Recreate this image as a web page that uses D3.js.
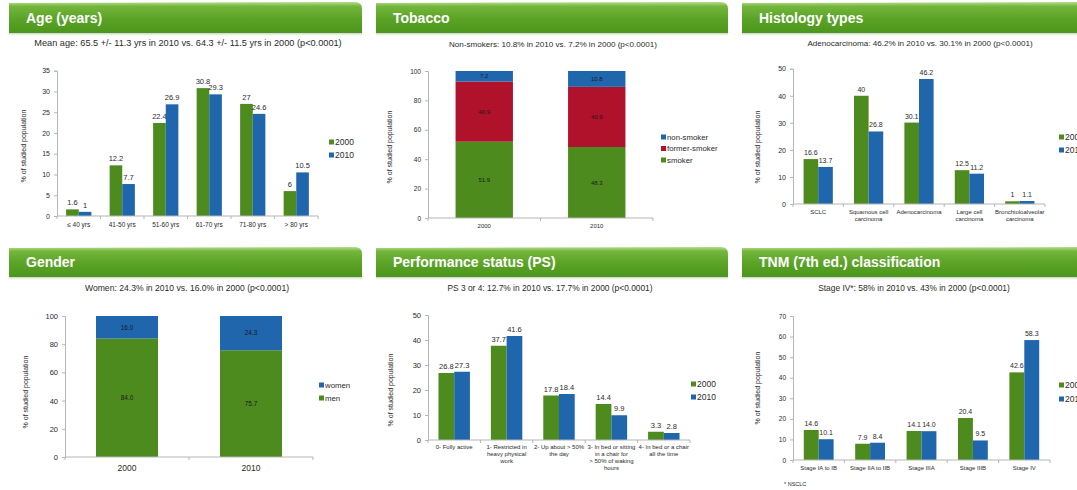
<!DOCTYPE html>
<html>
<head>
<meta charset="utf-8">
<script src="https://cdn.jsdelivr.net/npm/d3@7"></script>
<style>
  body { margin: 0; background: #fff; }
  svg { display: block; font-family: "Liberation Sans", Arial, sans-serif; }
</style>
</head>
<body>
<svg id="chart" width="1077" height="490"></svg>
<script>
// ---------- data ----------
const years = ["2000", "2010"];

const ageCategories = [["≤ 40 yrs"], ["41-50 yrs"], ["51-60 yrs"], ["61-70 yrs"], ["71-80 yrs"], ["> 80 yrs"]];
const age2000 = [1.6, 12.2, 22.4, 30.8, 27, 6];
const age2010 = [1, 7.7, 26.9, 29.3, 24.6, 10.5];
const ageTicks = [0, 5, 10, 15, 20, 25, 30, 35];

const tobaccoSeries = ["smoker", "former-smoker", "non-smoker"];
const smoker = [51.9, 48.3];
const formerSmoker = [40.9, 40.9];
const nonSmoker = [7.2, 10.8];
const percentTicks = [0, 20, 40, 60, 80, 100];

const histologyCategories = [["SCLC"], ["Squamous cell", "carcinoma"], ["Adenocarcinoma"], ["Large cell", "carcinoma"], ["Bronchioloalveolar", "carcinoma"]];
const histology2000 = [16.6, 40, 30.1, 12.5, 1];
const histology2010 = [13.7, 26.8, 46.2, 11.2, 1.1];
const histologyTicks = [0, 10, 20, 30, 40, 50];

const genderSeries = ["men", "women"];
const men = [84.0, 75.7];
const women = [16.0, 24.3];

const psCategories = [
  ["0- Fully active"],
  ["1- Restricted in", "heavy physical", "work"],
  ["2- Up about > 50%", "the day"],
  ["3- In bed or  sitting", "in a chair for", "> 50% of waking", "hours"],
  ["4- In bed or a chair", "all the time"]
];
const ps2000 = [26.8, 37.7, 17.8, 14.4, 3.3];
const ps2010 = [27.3, 41.6, 18.4, 9.9, 2.8];
const psTicks = [0, 10, 20, 30, 40, 50];

const tnmCategories = [["Stage IA to IB"], ["Stage IIA to IIB"], ["Stage IIIA"], ["Stage IIIB"], ["Stage IV"]];
const tnm2000 = [14.6, 7.9, 14.1, 20.4, 42.6];
const tnm2010 = [10.1, 8.4, 14.0, 9.5, 58.3];
const tnmTicks = [0, 10, 20, 30, 40, 50, 60, 70];

// ---------- styling ----------
const GREEN = "#4d8b1f";
const BLUE = "#1f66ad";
const RED = "#b0112b";
const AXIS = "#b5b5b5";
const TEXT = "#2a2a2a";
const yTitle = "% of studied population";

const svg = d3.select("#chart");
const defs = svg.append("defs");

const hdrGrad = defs.append("linearGradient").attr("id", "hdr").attr("x1", 0).attr("y1", 0).attr("x2", 0).attr("y2", 1);
hdrGrad.append("stop").attr("offset", "0%").attr("stop-color", "#b7dc8f");
hdrGrad.append("stop").attr("offset", "14%").attr("stop-color", "#74b63c");
hdrGrad.append("stop").attr("offset", "55%").attr("stop-color", "#5aa326");
hdrGrad.append("stop").attr("offset", "100%").attr("stop-color", "#4b961c");

const shadowGrad = defs.append("linearGradient").attr("id", "hdrShadow").attr("x1", 0).attr("y1", 0).attr("x2", 0).attr("y2", 1);
shadowGrad.append("stop").attr("offset", "0%").attr("stop-color", "#c9d3c2");
shadowGrad.append("stop").attr("offset", "100%").attr("stop-color", "#ffffff").attr("stop-opacity", 0);

// green section header with rounded upper-right corner
function header(x, y, w, h, title, baseline) {
  const r = 7;
  svg.append("rect").attr("x", x).attr("y", y + h).attr("width", w).attr("height", 4).attr("fill", "url(#hdrShadow)");
  const p = d3.path();
  p.moveTo(x, y + h);
  p.lineTo(x, y + 1);
  p.lineTo(x + w - r, y);
  p.quadraticCurveTo(x + w, y, x + w, y + r);
  p.lineTo(x + w, y + h);
  p.closePath();
  svg.append("path").attr("d", p.toString()).attr("fill", "url(#hdr)");
  svg.append("text").attr("x", x + 17).attr("y", y + baseline)
    .attr("fill", "#fff").attr("font-size", 14).attr("font-weight", "bold")
    .text(title);
}

function subtitle(cx, y, size, str) {
  svg.append("text").attr("x", cx).attr("y", y).attr("text-anchor", "middle")
    .attr("font-size", size).attr("fill", TEXT).text(str);
}

function yAxis(g, y, left, ticks, size) {
  const ax = g.append("g").attr("transform", `translate(${left},0)`)
    .call(d3.axisLeft(y).tickValues(ticks).tickSize(3).tickPadding(4).tickFormat(d3.format("d")));
  ax.select(".domain").attr("stroke", AXIS);
  ax.selectAll(".tick line").attr("stroke", AXIS);
  ax.selectAll(".tick text").attr("fill", TEXT).attr("font-size", size).attr("font-family", null);
}

function yAxisTitle(g, x, cy, size) {
  g.append("text").attr("transform", `translate(${x},${cy}) rotate(-90)`)
    .attr("text-anchor", "middle").attr("font-size", size).attr("fill", TEXT).text(yTitle);
}

function xBaseline(g, x, y0, n) {
  g.append("line").attr("x1", x.range()[0]).attr("x2", x.range()[1])
    .attr("y1", y0).attr("y2", y0).attr("stroke", AXIS);
  g.selectAll(".xt").data(d3.range(n + 1)).join("line")
    .attr("x1", i => x.range()[0] + i * x.step()).attr("x2", i => x.range()[0] + i * x.step())
    .attr("y1", y0).attr("y2", y0 + 3).attr("stroke", AXIS);
}

function legend(g, x, y, rowH, items, size) {
  items.forEach((it, i) => {
    const yy = y + i * rowH;
    g.append("rect").attr("x", x).attr("y", yy - 2.5).attr("width", 5).attr("height", 5).attr("fill", it.color);
    g.append("text").attr("x", x + 6).attr("y", yy).attr("dy", "0.35em")
      .attr("font-size", size).attr("fill", TEXT).text(it.label);
  });
}

// clustered columns, one pair per category
function groupedPanel(o) {
  const g = svg.append("g");
  const n = o.categories.length;
  const x = d3.scaleBand().domain(d3.range(n)).range([o.left, o.right])
    .paddingInner(o.gap).paddingOuter(o.gap / 2);
  const xs = d3.scaleBand().domain(years).range([0, x.bandwidth()]);
  const y = d3.scaleLinear().domain([0, o.max]).range([o.bottom, o.top]);
  const series = [{ key: years[0], values: o.a, color: GREEN }, { key: years[1], values: o.b, color: BLUE }];
  const fmt = o.fmt || (v => String(v));

  series.forEach(s => {
    g.selectAll(null).data(s.values).join("rect")
      .attr("x", (v, i) => x(i) + xs(s.key)).attr("width", xs.bandwidth())
      .attr("y", v => y(v)).attr("height", v => y(0) - y(v)).attr("fill", s.color);
    g.selectAll(null).data(s.values).join("text")
      .attr("x", (v, i) => x(i) + xs(s.key) + xs.bandwidth() / 2)
      .attr("y", v => y(v) - 4).attr("text-anchor", "middle")
      .attr("font-size", o.valueSize).attr("fill", TEXT).text(fmt);
  });

  xBaseline(g, x, o.bottom, n);
  yAxis(g, y, o.left, o.ticks, o.tickSize);
  yAxisTitle(g, o.titleX, o.titleY, 7);

  o.categories.forEach((lines, i) => {
    const t = g.append("text").attr("x", x(i) + x.bandwidth() / 2).attr("y", o.bottom + o.catOffset)
      .attr("text-anchor", "middle").attr("font-size", o.catSize).attr("fill", TEXT);
    lines.forEach((ln, j) => t.append("tspan").attr("x", x(i) + x.bandwidth() / 2)
      .attr("dy", j === 0 ? 0 : o.catLine).text(ln));
  });

  legend(g, o.legendX, o.legendY, o.legendRow,
    series.map(s => ({ label: s.key, color: s.color })), o.legendSize);
}

// 100% stacked columns, one column per year
function stackedPanel(o) {
  const g = svg.append("g");
  const x = d3.scaleBand().domain(years).range([o.left, o.right])
    .paddingInner(o.gap).paddingOuter(o.gap / 2);
  const y = d3.scaleLinear().domain([0, 100]).range([o.bottom, o.top]);
  const rows = years.map((yr, i) => {
    const r = { year: yr };
    o.series.forEach(s => { r[s.key] = s.values[i]; });
    return r;
  });
  const stack = d3.stack().keys(o.series.map(s => s.key))(rows);
  stack.forEach((layer, li) => {
    const s = o.series[li];
    g.selectAll(null).data(layer).join("rect")
      .attr("x", d => x(d.data.year)).attr("width", x.bandwidth())
      .attr("y", d => y(d[1])).attr("height", d => y(d[0]) - y(d[1])).attr("fill", s.color);
    g.selectAll(null).data(layer).join("text")
      .attr("x", d => x(d.data.year) + x.bandwidth() / 2)
      .attr("y", d => (y(d[0]) + y(d[1])) / 2).attr("dy", "0.35em")
      .attr("text-anchor", "middle").attr("font-size", o.valueSize).attr("fill", "#1a1a1a")
      .text(d => d3.format(".1f")(d[1] - d[0]));
  });

  xBaseline(g, x, o.bottom, years.length);
  yAxis(g, y, o.left, percentTicks, o.tickSize);
  yAxisTitle(g, o.titleX, o.titleY, 7);

  g.selectAll(null).data(years).join("text")
    .attr("x", d => x(d) + x.bandwidth() / 2).attr("y", o.bottom + o.catOffset)
    .attr("text-anchor", "middle").attr("font-size", o.catSize).attr("fill", TEXT).text(d => d);

  const legendItems = o.series.slice().reverse().map(s => ({ label: s.key, color: s.color }));
  legend(g, o.legendX, o.legendY, o.legendRow, legendItems, o.legendSize);
}

// ---------- headers ----------
header(9, 2, 353, 31, "Age (years)", 21);
header(376, 2, 352, 31, "Tobacco", 21);
header(742, 2, 345, 31, "Histology types", 21);
header(9, 247, 353, 30, "Gender", 20);
header(376, 247, 352, 30, "Performance status (PS)", 20);
header(742, 247, 345, 30, "TNM (7th ed.) classification", 20);

// ---------- subtitles ----------
subtitle(188, 46, 9.2, "Mean age: 65.5 +/- 11.3 yrs in 2010 vs. 64.3 +/- 11.5 yrs in 2000 (p<0.0001)");
subtitle(553, 47, 8.1, "Non-smokers:  10.8% in 2010 vs. 7.2% in 2000 (p<0.0001)");
subtitle(920, 46, 8.1, "Adenocarcinoma:  46.2% in 2010 vs. 30.1% in 2000 (p<0.0001)");
subtitle(187, 291, 8.6, "Women: 24.3% in 2010 vs. 16.0% in 2000 (p<0.0001)");
subtitle(550, 291, 8.4, "PS 3 or 4: 12.7% in 2010 vs. 17.7% in 2000 (p<0.0001)");
subtitle(914, 291, 8.4, "Stage IV*: 58% in 2010 vs. 43% in 2000 (p<0.0001)");

// ---------- panels ----------
groupedPanel({
  categories: ageCategories, a: age2000, b: age2010, max: 35, ticks: ageTicks,
  left: 57, right: 318, top: 70.7, bottom: 216, gap: 0.42,
  valueSize: 7.5, tickSize: 7, catSize: 6.5, catOffset: 11, catLine: 7,
  titleX: 26, titleY: 146, legendX: 329, legendY: 142, legendRow: 13, legendSize: 8.5
});

stackedPanel({
  series: [
    { key: tobaccoSeries[0], values: smoker, color: GREEN },
    { key: tobaccoSeries[1], values: formerSmoker, color: RED },
    { key: tobaccoSeries[2], values: nonSmoker, color: BLUE }
  ],
  left: 428, right: 653, top: 71, bottom: 218, gap: 0.49,
  valueSize: 6, tickSize: 6.5, catSize: 6, catOffset: 10,
  titleX: 392, titleY: 147, legendX: 661, legendY: 137, legendRow: 11.5, legendSize: 7.8
});

groupedPanel({
  categories: histologyCategories, a: histology2000, b: histology2010, max: 50, ticks: histologyTicks,
  left: 793, right: 1045, top: 68.7, bottom: 204, gap: 0.42,
  valueSize: 7, tickSize: 7, catSize: 6, catOffset: 10, catLine: 6.5,
  titleX: 760, titleY: 147, legendX: 1059, legendY: 137, legendRow: 13, legendSize: 8.5
});

stackedPanel({
  series: [
    { key: genderSeries[0], values: men, color: GREEN },
    { key: genderSeries[1], values: women, color: BLUE }
  ],
  left: 65, right: 313, top: 316, bottom: 457, gap: 0.5,
  valueSize: 6.5, tickSize: 7.5, catSize: 8.5, catOffset: 14,
  titleX: 28, titleY: 392, legendX: 319, legendY: 385, legendRow: 13, legendSize: 7.8
});

groupedPanel({
  categories: psCategories, a: ps2000, b: ps2010, max: 50, ticks: psTicks,
  left: 428, right: 690, top: 315, bottom: 440, gap: 0.4,
  valueSize: 7.5, tickSize: 7.5, catSize: 6, catOffset: 9, catLine: 7,
  titleX: 393, titleY: 390, legendX: 691, legendY: 384, legendRow: 13, legendSize: 8.5
});

groupedPanel({
  categories: tnmCategories, a: tnm2000, b: tnm2010, max: 70, ticks: tnmTicks,
  left: 793, right: 1050, top: 316, bottom: 460, gap: 0.42, fmt: d3.format(".1f"),
  valueSize: 7, tickSize: 6.5, catSize: 6, catOffset: 10, catLine: 7,
  titleX: 760, titleY: 388, legendX: 1059, legendY: 385, legendRow: 14, legendSize: 8.5
});

svg.append("text").attr("x", 784).attr("y", 486).attr("font-size", 5.5).attr("fill", TEXT).text("* NSCLC");
</script>
</body>
</html>
